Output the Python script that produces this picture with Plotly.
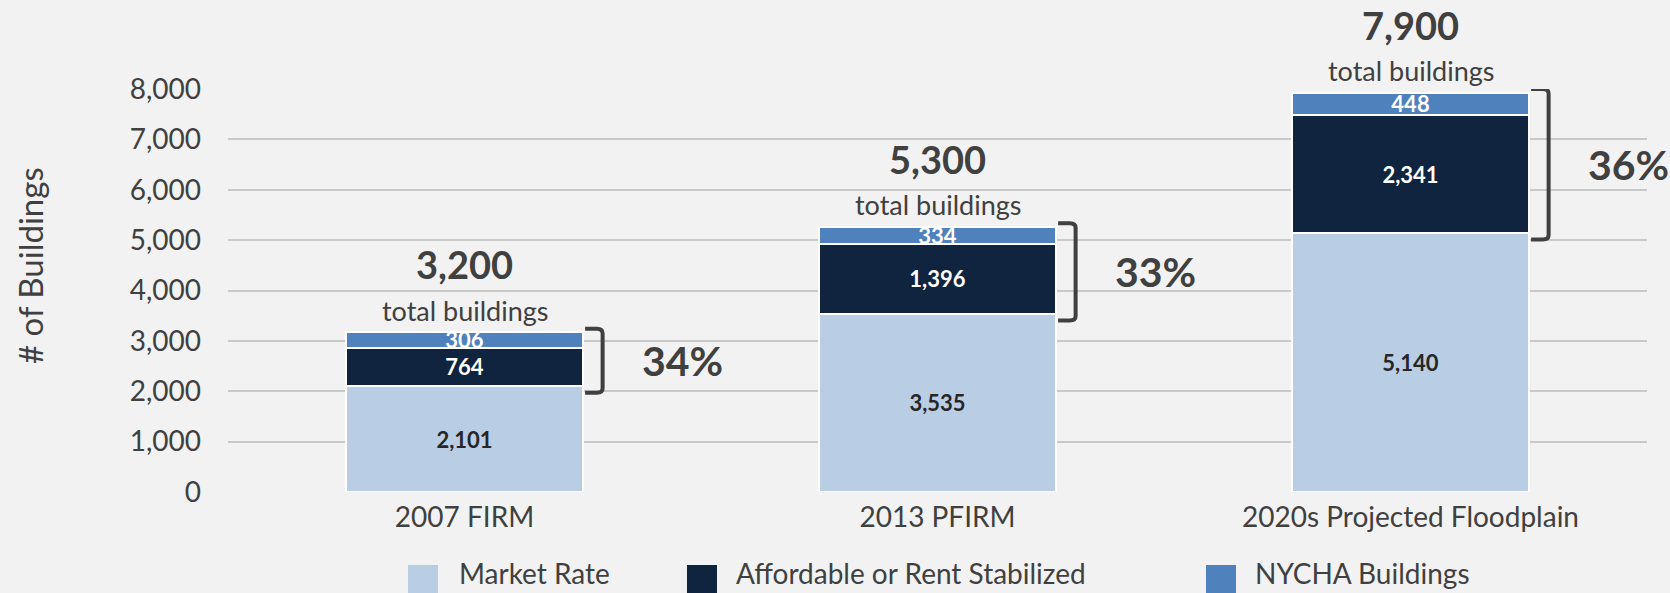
import plotly.graph_objects as go

categories = ["2007 FIRM", "2013 PFIRM", "2020s Projected Floodplain"]
market_rate = [2101, 3535, 5140]
affordable = [764, 1396, 2341]
nycha = [306, 334, 448]
total_labels = ["3,200", "5,300", "7,900"]
share_labels = ["34%", "33%", "36%"]

series_names = ["Market Rate", "Affordable or Rent Stabilized", "NYCHA Buildings"]
series_values = [market_rate, affordable, nycha]
series_colors = ["#B9CDE5", "#10243F", "#4F81BD"]
label_colors = ["#262626", "#FFFFFF", "#FFFFFF"]

FONT = "Lato, 'Open Sans', sans-serif"
GREY = "#404040"
W, H = 1670, 593
M_L, M_R, M_T, M_B = 228, 23, 89, 101


def px_x(px):
    return (px - M_L) / (W - M_L - M_R)


def px_y(py):
    return (H - M_B - py) / (H - M_T - M_B)


xs = list(range(len(categories)))
totals = [a + b + c for a, b, c in zip(market_rate, affordable, nycha)]

fig = go.Figure()
for name, vals, color, tcolor in zip(series_names, series_values, series_colors, label_colors):
    fig.add_trace(
        go.Bar(
            x=xs,
            y=vals,
            name=name,
            width=0.5,
            marker=dict(color=color, line=dict(color="white", width=2)),
            text=vals,
            texttemplate="%{y:,}",
            textposition="inside",
            insidetextanchor="middle",
            textangle=0,
            constraintext="none",
            textfont=dict(family=FONT, size=22, color=tcolor, weight="bold"),
            showlegend=False,
        )
    )

annotations = []
shapes = []
for i, (tot, mr, lab, pct) in enumerate(zip(totals, market_rate, total_labels, share_labels)):
    annotations.append(dict(x=i, y=tot, text=lab, showarrow=False, yshift=68,
                            font=dict(family=FONT, size=38, color=GREY, weight="bold")))
    annotations.append(dict(x=i, y=tot, text="total buildings", showarrow=False, yshift=22,
                            font=dict(family=FONT, size=27, color=GREY)))

    # bracket around the affordable + NYCHA share
    x0, x1 = i + 0.255, i + 0.292
    yt, yb = tot + 70, mr - 130
    rx, ry = 0.012, 90
    path = (f"M{x0},{yt} L{x1 - rx},{yt} Q{x1},{yt} {x1},{yt - ry} "
            f"L{x1},{yb + ry} Q{x1},{yb} {x1 - rx},{yb} L{x0},{yb}")
    shapes.append(dict(type="path", path=path, xref="x", yref="y",
                       line=dict(color=GREY, width=4)))
    annotations.append(dict(x=i + 0.46, y=(yt + yb) / 2, text=pct, showarrow=False,
                            font=dict(family=FONT, size=41, color=GREY, weight="bold")))

# y axis title
annotations.append(dict(x=px_x(30), y=px_y(266), xref="paper", yref="paper",
                        xanchor="center", yanchor="middle",
                        text="# of Buildings", textangle=-90, showarrow=False,
                        font=dict(family=FONT, size=33, color=GREY)))

# legend drawn by hand to get the large square keys
legend_sq = [408, 687, 1206]
legend_tx = [457, 734, 1253]
for name, color, sx, tx in zip(series_names, series_colors, legend_sq, legend_tx):
    shapes.append(dict(type="rect", xref="paper", yref="paper",
                       x0=px_x(sx), x1=px_x(sx + 30), y0=px_y(565), y1=px_y(600),
                       fillcolor=color, line=dict(width=0)))
    annotations.append(dict(x=px_x(tx), y=px_y(592), xref="paper", yref="paper",
                            text=name, showarrow=False, xanchor="left", yanchor="bottom",
                            font=dict(family=FONT, size=28, color=GREY)))

fig.update_layout(
    width=W,
    height=H,
    barmode="stack",
    paper_bgcolor="#F2F2F2",
    plot_bgcolor="#F2F2F2",
    margin=dict(l=M_L, r=M_R, t=M_T, b=M_B, pad=0),
    font=dict(family=FONT, size=28, color=GREY),
    annotations=annotations,
    shapes=shapes,
    showlegend=False,
)
fig.update_xaxes(
    range=[-0.5, 2.5],
    tickvals=xs,
    ticktext=categories,
    showgrid=False,
    zeroline=False,
    ticks="",
    ticklabelstandoff=6,
    tickfont=dict(family=FONT, size=28, color=GREY),
)
fig.update_yaxes(
    range=[0, 8000],
    dtick=1000,
    tickformat=",",
    showgrid=True,
    gridcolor="#C9C9C9",
    gridwidth=1.5,
    zeroline=False,
    ticks="",
    ticklabelstandoff=26,
    tickfont=dict(family=FONT, size=28, color=GREY),
)

fig.write_html(
    "out.html",
    config={"displayModeBar": False},
    post_script="document.body.style.margin='0px';",
)
